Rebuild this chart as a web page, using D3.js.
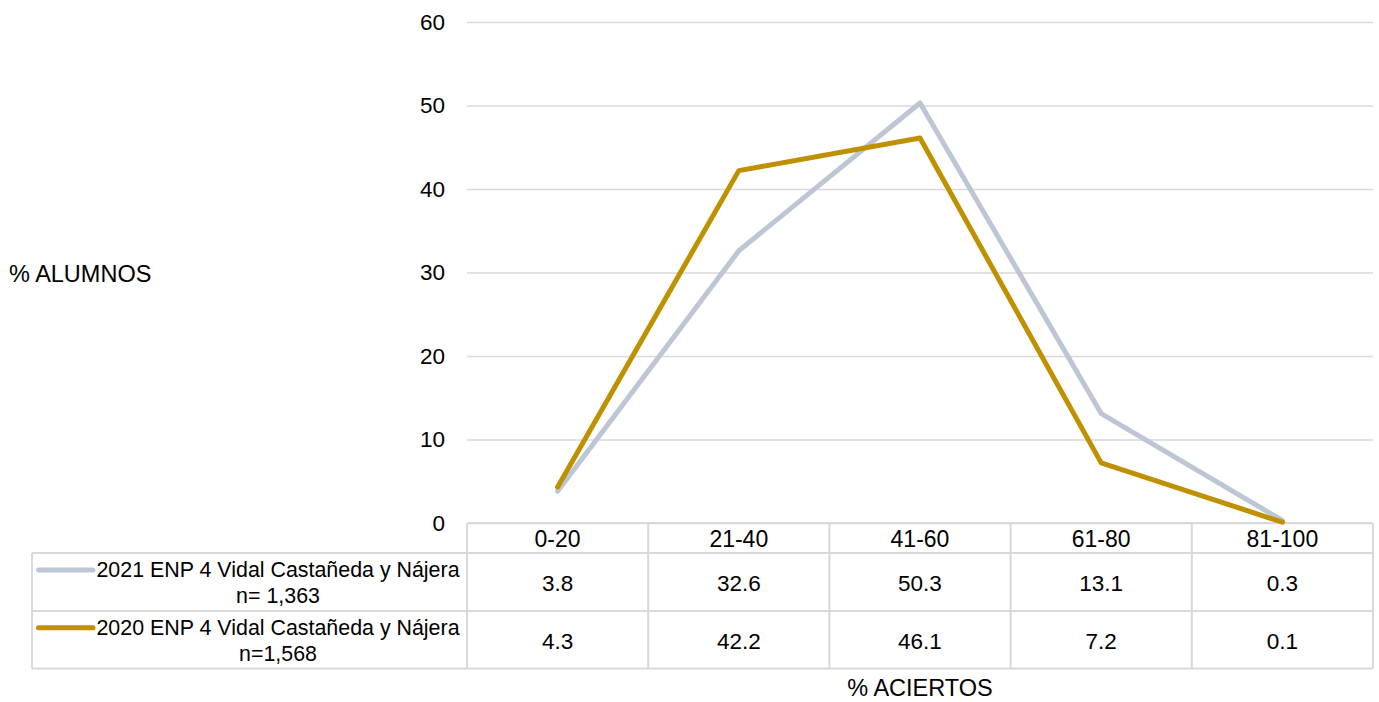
<!DOCTYPE html>
<html>
<head>
<meta charset="utf-8">
<script src="https://cdn.jsdelivr.net/npm/d3@7"></script>
<style>
  html, body { margin: 0; padding: 0; background: #fff; }
  svg { display: block; font-family: "Liberation Sans", Arial, sans-serif; }
</style>
</head>
<body>
<svg id="chart" width="1379" height="702"></svg>
<script>
// ---- data ----
const categories = ["0-20", "21-40", "41-60", "61-80", "81-100"];
const series2021 = [3.8, 32.6, 50.3, 13.1, 0.3];
const series2020 = [4.3, 42.2, 46.1, 7.2, 0.1];
const seriesNames = [
  ["2021 ENP 4 Vidal Castañeda y Nájera", "n= 1,363"],
  ["2020 ENP 4 Vidal Castañeda y Nájera", "n=1,568"]
];
const yTicks = [0, 10, 20, 30, 40, 50, 60];
const yTitle = "% ALUMNOS";
const xTitle = "% ACIERTOS";

// ---- layout ----
const W = 1379, H = 702;
const plotL = 467, plotR = 1373, plotT = 22, plotB = 523;
const tableL = 32, headerB = 553, row1B = 611, row2B = 668.5;
const gridColor = "#D9D9D9";
const colors = ["#BDC6D4", "#BF9000"];

const svg = d3.select("#chart");

const x = d3.scaleBand().domain(categories).range([plotL, plotR]).paddingInner(0).paddingOuter(0);
const y = d3.scaleLinear().domain([0, 60]).range([plotB, plotT]);

// gridlines + y tick labels
const yAxis = d3.axisLeft(y)
  .tickValues(yTicks)
  .tickSize(-(plotR - plotL))
  .tickPadding(22)
  .tickFormat(d3.format("d"));

const gy = svg.append("g")
  .attr("transform", `translate(${plotL},0)`)
  .call(yAxis);
gy.select(".domain").remove();
gy.selectAll(".tick line").attr("stroke", gridColor).attr("stroke-width", 1.5);
gy.selectAll(".tick text")
  .attr("fill", "#000")
  .style("font-size", "22.5px")
  .style("font-family", "'Liberation Sans', Arial, sans-serif");

// ---- table ----
const tg = svg.append("g").attr("stroke", gridColor).attr("stroke-width", 2).attr("fill", "none");
tg.append("line").attr("x1", plotL).attr("x2", plotR).attr("y1", plotB).attr("y2", plotB);
[headerB, row1B, row2B].forEach(yy => {
  tg.append("line").attr("x1", tableL).attr("x2", plotR).attr("y1", yy).attr("y2", yy);
});
tg.append("line").attr("x1", tableL).attr("x2", tableL).attr("y1", headerB).attr("y2", row2B);
const bounds = categories.map(c => x(c)).concat([plotR]);
bounds.forEach(bx => {
  tg.append("line").attr("x1", bx).attr("x2", bx).attr("y1", plotB).attr("y2", row2B);
});

// header labels
svg.append("g").selectAll("text")
  .data(categories)
  .join("text")
  .attr("x", d => x(d) + x.bandwidth() / 2)
  .attr("y", (plotB + headerB) / 2 + 1)
  .attr("text-anchor", "middle")
  .attr("dominant-baseline", "central")
  .style("font-size", "23px")
  .text(d => d);

const allSeries = [series2021, series2020];
const rowCenters = [(headerB + row1B) / 2, (row1B + row2B) / 2];

allSeries.forEach((vals, si) => {
  svg.append("g").selectAll("text")
    .data(vals)
    .join("text")
    .attr("x", (d, i) => x(categories[i]) + x.bandwidth() / 2)
    .attr("y", rowCenters[si] + 1.5)
    .attr("text-anchor", "middle")
    .attr("dominant-baseline", "central")
    .style("font-size", "22.5px")
    .text(d => d3.format(".1f")(d));

  // legend key
  svg.append("line")
    .attr("x1", 38.5).attr("x2", 93)
    .attr("y1", rowCenters[si] - 12).attr("y2", rowCenters[si] - 12)
    .attr("stroke", colors[si]).attr("stroke-width", 5).attr("stroke-linecap", "round");

  const lt = svg.append("text")
    .attr("text-anchor", "middle")
    .style("font-size", "21.4px");
  seriesNames[si].forEach((ln, li) => {
    lt.append("tspan")
      .attr("x", 278)
      .attr("y", rowCenters[si] - 12 + li * 26)
      .attr("dominant-baseline", "central")
      .text(ln);
  });
});

// ---- lines ----
const line = d3.line()
  .x((d, i) => x(categories[i]) + x.bandwidth() / 2)
  .y(d => y(d));

allSeries.forEach((vals, si) => {
  svg.append("path")
    .datum(vals)
    .attr("fill", "none")
    .attr("stroke", colors[si])
    .attr("stroke-width", 5)
    .attr("stroke-linejoin", "round")
    .attr("stroke-linecap", "round")
    .attr("d", line);
});

// ---- titles ----
svg.append("text")
  .attr("x", 9).attr("y", 274)
  .attr("dominant-baseline", "central")
  .style("font-size", "23.5px")
  .text(yTitle);

svg.append("text")
  .attr("x", (plotL + plotR) / 2).attr("y", 688)
  .attr("text-anchor", "middle")
  .attr("dominant-baseline", "central")
  .style("font-size", "23.5px")
  .text(xTitle);
</script>
</body>
</html>
